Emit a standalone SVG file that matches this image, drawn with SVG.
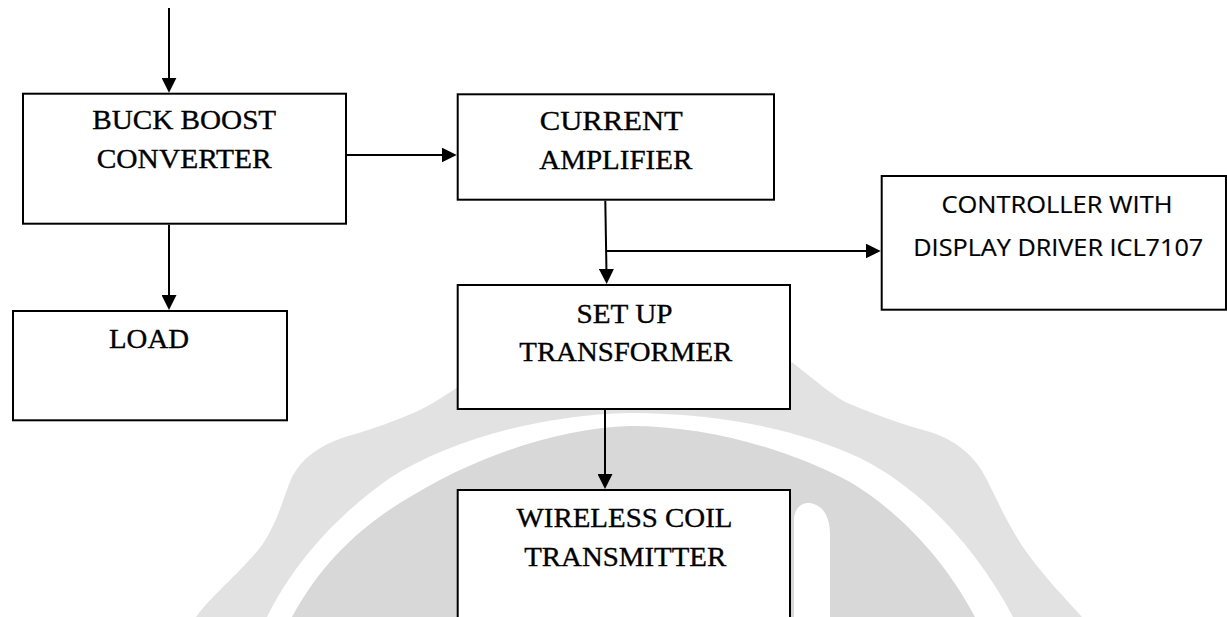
<svg xmlns="http://www.w3.org/2000/svg" width="1227" height="617" viewBox="0 0 1227 617">
  <style>
    .box { fill: #ffffff; stroke: #000000; stroke-width: 2; }
    .serif { font-family: "Liberation Serif", "Times New Roman", serif; font-size: 28px; fill: #000000; stroke: #000000; stroke-width: 0.35; text-anchor: middle; }
    .sans { font-family: "Open Sans", "Liberation Sans", sans-serif; font-size: 23.5px; fill: #000000; stroke: #000000; stroke-width: 0.2; text-anchor: middle; }
    .wire { fill: none; stroke: #000000; stroke-width: 2; marker-end: url(#ah); }
  </style>
  <defs>
    <marker id="ah" viewBox="0 0 15 15" markerUnits="userSpaceOnUse" markerWidth="15" markerHeight="15" refX="5" refY="7.5" orient="auto">
      <path d="M0,0 L15,7.5 L0,15 Z" fill="#000000"/>
    </marker>
  </defs>

  <rect width="1227" height="617" fill="#ffffff"/>

  <!-- faint seal in the background -->
  <g id="seal">
    <path fill="#e2e2e2" d="M196,617 C212,595 245,568 262,545 C278,522 284,495 292,477 C302,458 320,445 345,437 C370,430 398,420 420,410 C440,400 452,390 470,380 L625,300 L793,363 C815,380 835,398 850,404 C875,415 905,425 930,432 C955,440 975,455 987,480 C998,502 1008,525 1025,550 C1045,578 1065,598 1082,617 Z"/>
    <path fill="#ffffff" d="M267,617 C290,570 330,520 390,478 C450,440 540,415 630,413 C720,413 800,430 860,458 C920,488 975,545 1013,617 Z"/>
    <path fill="#d8d8d8" d="M292,617 C320,565 360,525 415,494 C480,455 560,428 630,426 C710,426 790,450 850,482 C900,512 945,560 975,617 Z"/>
    <path fill="#ffffff" d="M794,617 L794,520 C794,508 802,502 810,503 C822,505 830,515 830,535 L830,617 Z"/>
  </g>

  <!-- blocks -->
  <g id="buck-boost">
    <rect class="box" x="23" y="93.7" width="323" height="130"/>
    <text class="serif" x="184.2" y="129.3" textLength="184" lengthAdjust="spacingAndGlyphs">BUCK BOOST</text>
    <text class="serif" x="184.2" y="168.3" textLength="175" lengthAdjust="spacingAndGlyphs">CONVERTER</text>
  </g>
  <g id="current-amplifier">
    <rect class="box" x="457.7" y="94.3" width="316.3" height="105.4"/>
    <text class="serif" x="611.3" y="130" textLength="143" lengthAdjust="spacingAndGlyphs">CURRENT</text>
    <text class="serif" x="615.8" y="169.3" textLength="153" lengthAdjust="spacingAndGlyphs">AMPLIFIER</text>
  </g>
  <g id="controller">
    <rect class="box" x="881.7" y="176" width="344.3" height="133.7"/>
    <text class="sans" x="1057" y="213" textLength="231" lengthAdjust="spacingAndGlyphs">CONTROLLER WITH</text>
    <text class="sans" x="1058.3" y="255.7" textLength="290" lengthAdjust="spacingAndGlyphs">DISPLAY DRIVER ICL7107</text>
  </g>
  <g id="load">
    <rect class="box" x="13" y="311" width="274" height="109.3"/>
    <text class="serif" x="149" y="348.3" textLength="80" lengthAdjust="spacingAndGlyphs">LOAD</text>
  </g>
  <g id="setup-transformer">
    <rect class="box" x="457.7" y="285" width="332.3" height="124"/>
    <text class="serif" x="624.5" y="322.7" textLength="96" lengthAdjust="spacingAndGlyphs">SET UP</text>
    <text class="serif" x="625.8" y="361" textLength="213" lengthAdjust="spacingAndGlyphs">TRANSFORMER</text>
  </g>
  <g id="wireless-coil">
    <rect class="box" x="457.7" y="490" width="332.3" height="160"/>
    <text class="serif" x="624.5" y="526.7" textLength="216" lengthAdjust="spacingAndGlyphs">WIRELESS COIL</text>
    <text class="serif" x="625.2" y="565.7" textLength="202" lengthAdjust="spacingAndGlyphs">TRANSMITTER</text>
  </g>

  <!-- connectors -->
  <g id="connectors">
    <path class="wire" d="M169,8 V82.7"/>
    <path class="wire" d="M347,155 H446.7"/>
    <path class="wire" d="M169,224.7 V300"/>
    <path class="wire" d="M605.3,200.7 L606.5,274"/>
    <path class="wire" d="M605.8,251 H870.7"/>
    <path class="wire" d="M605,410 V479"/>
  </g>
</svg>
